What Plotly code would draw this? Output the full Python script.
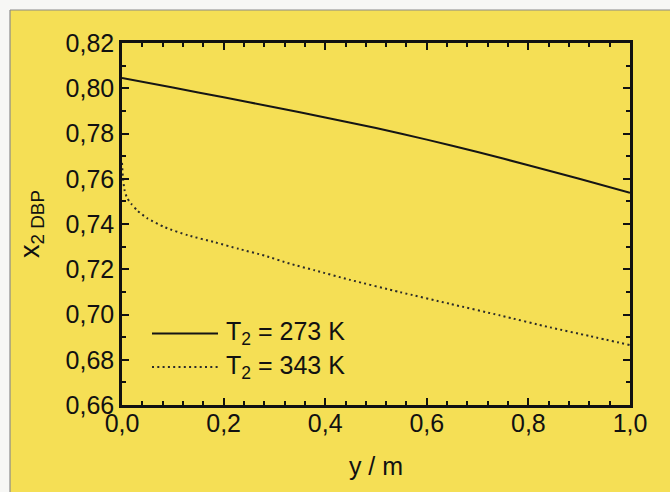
import plotly.graph_objects as go

# ---- data ----
y_m_273 = [0.0, 0.1, 0.2, 0.3, 0.4, 0.5, 0.6, 0.7, 0.8, 0.9, 1.0]
x2_273 = [0.8045, 0.8003, 0.7960, 0.7916, 0.7871, 0.7824, 0.7773, 0.7718, 0.7660, 0.7600, 0.7538]

y_m_343 = [0.0, 0.002, 0.005, 0.01, 0.018, 0.03, 0.05, 0.085, 0.13, 0.183, 0.23, 0.281,
           0.33, 0.38, 0.449, 0.547, 0.646, 0.744, 0.843, 0.92, 1.0]
x2_343 = [0.767, 0.760, 0.755, 0.7515, 0.749, 0.746, 0.7425, 0.7385, 0.735, 0.7319, 0.729, 0.726,
          0.7225, 0.7195, 0.7153, 0.7099, 0.7047, 0.6996, 0.6943, 0.6905, 0.6865]

series_names = ["T<sub>2</sub> = 273 K", "T<sub>2</sub> = 343 K"]
x_ticks = [0.0, 0.2, 0.4, 0.6, 0.8, 1.0]
y_ticks = [0.66, 0.68, 0.70, 0.72, 0.74, 0.76, 0.78, 0.80, 0.82]

# ---- layout geometry ----
W, H = 670, 492
L, R, T, B = 122, 40, 43, 87
PW, PH = W - L - R, H - T - B
YELLOW = "#F5DF55"
FONT = "Arial, Liberation Sans, sans-serif"
FS = 25


def px(p):
    return (p - L) / PW


def py(p):
    return (H - B - p) / PH


fig = go.Figure()
fig.add_trace(go.Scatter(x=y_m_273, y=x2_273, mode="lines", name=series_names[0],
                         line=dict(color="#151515", width=2, shape="spline", smoothing=0.8),
                         showlegend=False))
fig.add_trace(go.Scatter(x=y_m_343, y=x2_343, mode="lines", name=series_names[1],
                         line=dict(color="#2a2a2a", width=2, dash="2px,3.3px", shape="spline", smoothing=0.6),
                         showlegend=False))

axis_common = dict(
    showline=True, linecolor="#111", linewidth=2.5, mirror="allticks",
    ticks="inside", ticklen=7, tickwidth=2, tickcolor="#111",
    showgrid=False, zeroline=False,
    tickfont=dict(family=FONT, size=FS, color="#111"),
)

fig.update_xaxes(range=[0, 1], tickvals=x_ticks, tickformat=".1f", ticklabelstandoff=-6,
                 minor=dict(dtick=0.04, ticks="inside", ticklen=4, tickwidth=2, tickcolor="#111"),
                 title=dict(text="y / m", font=dict(family=FONT, size=FS, color="#111"), standoff=22),
                 **axis_common)
fig.update_yaxes(range=[0.66, 0.82], tickvals=y_ticks, tickformat=".2f",
                 minor=dict(dtick=0.01, ticks="inside", ticklen=4, tickwidth=2, tickcolor="#111"),
                 title=dict(text="x<sub>2 DBP</sub>", font=dict(family=FONT, size=27, color="#111"), standoff=19),
                 **axis_common)

shapes = [
    # yellow page panel with scanned-page edge at left and top
    dict(type="rect", xref="paper", yref="paper", x0=px(10), x1=px(W + 5), y0=py(H + 5), y1=py(10),
         fillcolor=YELLOW, line=dict(width=0), layer="below"),
    dict(type="line", xref="paper", yref="paper", x0=px(10), x1=px(10), y0=py(H + 5), y1=py(10),
         line=dict(color="#8a8a8a", width=1.2), layer="below"),
    dict(type="line", xref="paper", yref="paper", x0=px(10), x1=px(W + 5), y0=py(10), y1=py(10),
         line=dict(color="#8a8a8a", width=1.2), layer="below"),
    # legend samples
    dict(type="line", xref="paper", yref="paper", x0=px(152), x1=px(218), y0=py(333.5), y1=py(333.5),
         line=dict(color="#151515", width=2)),
    dict(type="line", xref="paper", yref="paper", x0=px(152), x1=px(218), y0=py(367), y1=py(367),
         line=dict(color="#2a2a2a", width=2, dash="2px,3.3px")),
]

annotations = [
    dict(xref="paper", yref="paper", x=px(224), y=py(333), xanchor="left", yanchor="middle",
         text=series_names[0], showarrow=False, font=dict(family=FONT, size=FS, color="#111")),
    dict(xref="paper", yref="paper", x=px(224), y=py(366.5), xanchor="left", yanchor="middle",
         text=series_names[1], showarrow=False, font=dict(family=FONT, size=FS, color="#111")),
]

fig.update_layout(
    width=W, height=H,
    margin=dict(l=L, r=R, t=T, b=B),
    paper_bgcolor="#f7f7f5", plot_bgcolor=YELLOW,
    separators=",.",
    shapes=shapes, annotations=annotations,
    showlegend=False,
)

fig.write_html("out.html")
